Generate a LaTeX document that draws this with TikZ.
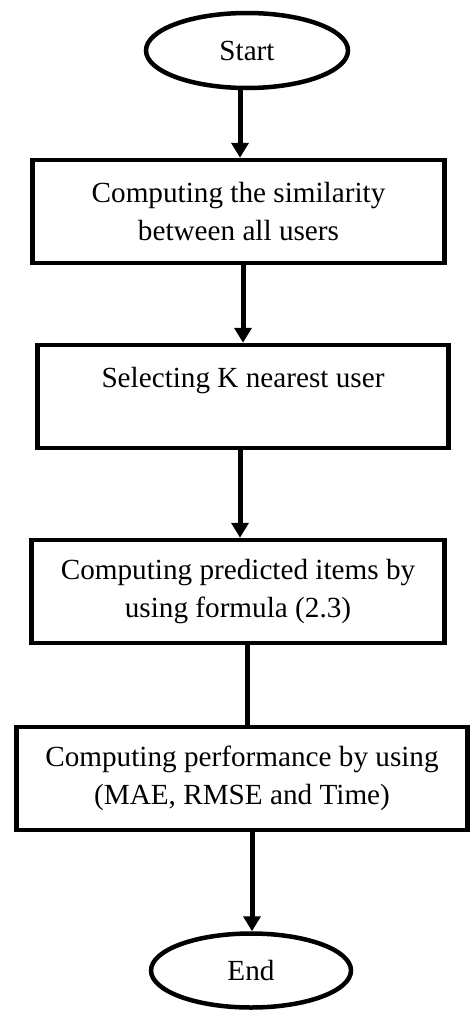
\documentclass[tikz,border=0pt]{standalone}
\usepackage{fontspec}
\setmainfont{Liberation Serif}
\usetikzlibrary{arrows.meta,shapes.geometric,calc}
\tikzset{
  stepbox/.style={draw=black, line width=4.5pt, rectangle, align=center, inner sep=0pt,
    minimum height=103pt, font=\fontsize{29.2}{38}\selectfont},
  termnode/.style={draw=black, line width=4.5pt, ellipse, inner sep=0pt,
    font=\fontsize{29.2}{38}\selectfont},
  arr/.style={line width=5pt, -{Triangle[width=17pt,length=15pt]}},
  plainline/.style={line width=5pt}
}
\begin{document}
\begin{tikzpicture}[x=1pt,y=-1pt]
\useasboundingbox (0,0) rectangle (472,1012);
\node[termnode, minimum width=202pt, minimum height=75pt] (start) at (247,50.5) {Start};
\node[stepbox, minimum width=412pt] (b1) at (238.5,211.5) {Computing the similarity\\between all users};
\node[stepbox, minimum width=411pt] (b2) at (243,396.5) {Selecting K nearest user\\\mbox{}};
\node[stepbox, minimum width=413pt] (b3) at (238,591.5) {Computing predicted items by\\using formula (2.3)};
\node[stepbox, minimum width=451pt] (b4) at (242,778.5) {Computing performance by using\\(MAE, RMSE and Time)};
\node[termnode, minimum width=200pt, minimum height=74pt] (end) at (251,970.5) {End};
\draw[arr] ($(start.south)+(-7,0)$) -- ($(b1.north)+(1.5,0)$);
\draw[arr] ($(b1.south)+(4.5,0)$) -- (b2.north);
\draw[arr] ($(b2.south)+(-3,0)$) -- ($(b3.north)+(2,0)$);
\draw[plainline] ($(b3.south)+(9,0)$) -- ($(b4.north)+(5,0)$);
\draw[arr] ($(b4.south)+(10,0)$) -- ($(end.north)+(1,0)$);
\end{tikzpicture}
\end{document}
